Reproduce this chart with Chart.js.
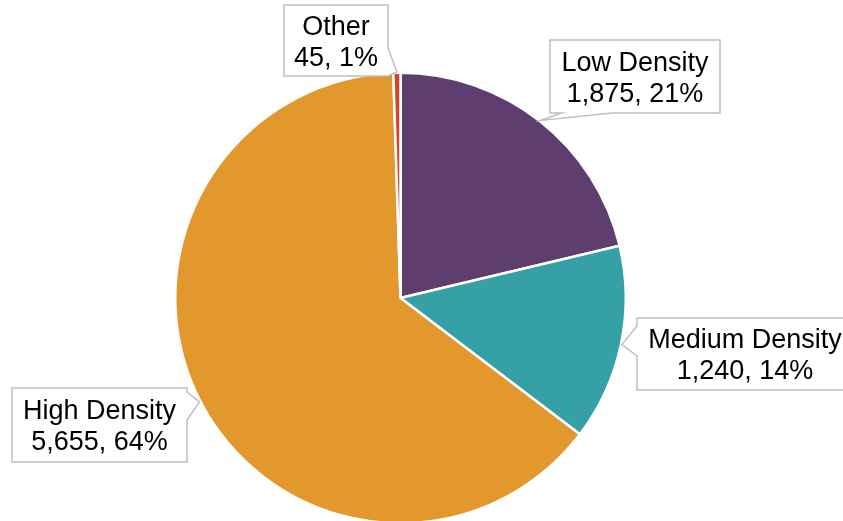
<!DOCTYPE html>
<html>
<head>
<meta charset="utf-8">
<script src="https://cdn.jsdelivr.net/npm/chart.js@4/dist/chart.umd.min.js"></script>
<style>
  html, body { margin: 0; padding: 0; background: #fff; overflow: hidden; }
  #wrap { width: 843px; height: 521px; overflow: hidden; }
</style>
</head>
<body>
<div id="wrap"><canvas id="chart" width="843" height="540"></canvas></div>
<script>
// chart data
const labels = ['Low Density', 'Medium Density', 'High Density', 'Other'];
const values = [1875, 1240, 5655, 45];
const colors = ['#5D3E6E', '#35A0A5', '#E3982E', '#D2452A'];

// callout boxes (layout only): box, side the pointer leaves from, and its base span
const callouts = [
  { x: 550, y: 40, w: 170, h: 73, side: 'bottom', a: 562, b: 612 },
  { x: 637, y: 318, w: 216, h: 72, side: 'left', a: 326, b: 356 },
  { x: 12, y: 388, w: 175, h: 74, side: 'right', a: 392, b: 420 },
  { x: 284, y: 5, w: 104, h: 71, side: 'right', a: 48, b: 76 }
];

const total = values.reduce((s, v) => s + v, 0);

const calloutPlugin = {
  id: 'callouts',
  afterDatasetsDraw(chart) {
    const ctx = chart.ctx;
    const arcs = chart.getDatasetMeta(0).data;
    ctx.save();
    callouts.forEach((c, i) => {
      const arc = arcs[i];
      const p = arc.getProps(['x', 'y', 'startAngle', 'endAngle', 'outerRadius'], true);
      const mid = (p.startAngle + p.endAngle) / 2;
      const tx = p.x + Math.cos(mid) * (p.outerRadius + 1);
      const ty = p.y + Math.sin(mid) * (p.outerRadius + 1);
      const x0 = c.x, y0 = c.y, x1 = c.x + c.w, y1 = c.y + c.h;

      ctx.beginPath();
      ctx.moveTo(x0, y0);
      ctx.lineTo(x1, y0);
      if (c.side === 'right') {
        ctx.lineTo(x1, c.a);
        ctx.lineTo(tx, ty);
        ctx.lineTo(x1, c.b);
      }
      ctx.lineTo(x1, y1);
      if (c.side === 'bottom') {
        ctx.lineTo(c.b, y1);
        ctx.lineTo(tx, ty);
        ctx.lineTo(c.a, y1);
      }
      ctx.lineTo(x0, y1);
      if (c.side === 'left') {
        ctx.lineTo(x0, c.b);
        ctx.lineTo(tx, ty);
        ctx.lineTo(x0, c.a);
      }
      ctx.closePath();
      ctx.fillStyle = '#fff';
      ctx.fill();
      ctx.lineWidth = 1.5;
      ctx.strokeStyle = '#BFBFBF';
      ctx.stroke();

      const pct = Math.round(values[i] / total * 100);
      ctx.fillStyle = '#000';
      ctx.font = '27px "Liberation Sans", Arial, sans-serif';
      ctx.textAlign = 'center';
      ctx.textBaseline = 'middle';
      const cx = c.x + c.w / 2;
      ctx.fillText(labels[i], cx, c.y + c.h / 2 - 13);
      ctx.fillText(values[i].toLocaleString('en-US') + ', ' + pct + '%', cx, c.y + c.h / 2 + 18);
    });
    ctx.restore();
  }
};

new Chart(document.getElementById('chart'), {
  type: 'pie',
  data: {
    labels: labels,
    datasets: [{
      data: values,
      backgroundColor: colors,
      borderColor: '#fff',
      borderWidth: 2.5
    }]
  },
  options: {
    responsive: false,
    animation: false,
    layout: { padding: { top: 71, bottom: 15, left: 174, right: 216 } },
    plugins: {
      legend: { display: false },
      tooltip: { enabled: false }
    }
  },
  plugins: [calloutPlugin]
});
</script>
</body>
</html>
